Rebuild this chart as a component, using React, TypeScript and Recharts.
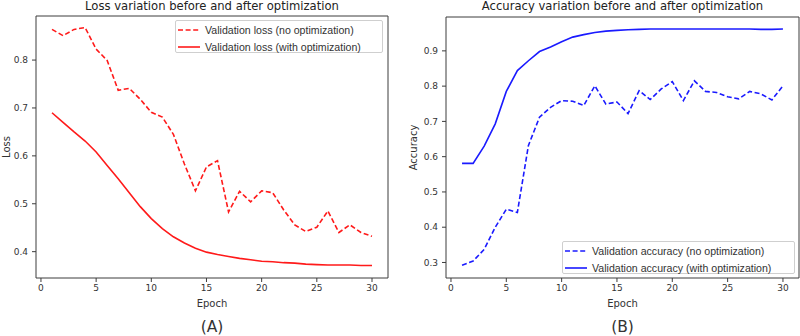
import { LineChart, Line, XAxis, YAxis, Legend, Label, CartesianGrid } from 'recharts';

// epochs on the x axis
const epochs = [
  1, 2, 3, 4, 5, 6, 7, 8, 9, 10, 11, 12, 13, 14, 15,
  16, 17, 18, 19, 20, 21, 22, 23, 24, 25, 26, 27, 28, 29, 30,
];

const lossNoOpt = [
  0.864, 0.851, 0.864, 0.868, 0.823, 0.799, 0.737, 0.741, 0.718, 0.691,
  0.681, 0.645, 0.583, 0.527, 0.577, 0.590, 0.483, 0.526, 0.504, 0.527,
  0.523, 0.487, 0.456, 0.442, 0.451, 0.485, 0.440, 0.456, 0.440, 0.432,
];
const lossOpt = [
  0.690, 0.670, 0.650, 0.631, 0.608, 0.580, 0.552, 0.523, 0.494, 0.469,
  0.448, 0.431, 0.418, 0.407, 0.399, 0.394, 0.390, 0.386, 0.383, 0.380,
  0.379, 0.377, 0.376, 0.374, 0.373, 0.372, 0.372, 0.372, 0.371, 0.371,
];
const accNoOpt = [
  0.292, 0.304, 0.337, 0.400, 0.451, 0.442, 0.632, 0.712, 0.740, 0.759,
  0.757, 0.745, 0.801, 0.749, 0.755, 0.722, 0.787, 0.762, 0.792, 0.813,
  0.759, 0.815, 0.785, 0.782, 0.770, 0.764, 0.785, 0.778, 0.761, 0.801,
];
const accOpt = [
  0.581, 0.581, 0.630, 0.693, 0.785, 0.844, 0.872, 0.898, 0.911, 0.926,
  0.939, 0.946, 0.952, 0.956, 0.958, 0.960, 0.961, 0.962, 0.962, 0.962,
  0.962, 0.962, 0.962, 0.962, 0.962, 0.962, 0.962, 0.961, 0.961, 0.962,
];

const xTicks = [0, 5, 10, 15, 20, 25, 30];
const lossTicks = [0.4, 0.5, 0.6, 0.7, 0.8];
const accTicks = [0.3, 0.4, 0.5, 0.6, 0.7, 0.8, 0.9];

const lossData = epochs.map((epoch, i) => ({ epoch, noOpt: lossNoOpt[i], opt: lossOpt[i] }));
const accData = epochs.map((epoch, i) => ({ epoch, noOpt: accNoOpt[i], opt: accOpt[i] }));

const INK = '#333';
const SPINE = '#3c3c3c';
const DASH = '5 2.6';
const X_DOMAIN = [-0.45, 31.45];
const DEJAVU = '"DejaVu Sans", sans-serif';

const tickStyle = { fill: INK, fontSize: 9, fontFamily: DEJAVU };

type Item = { name: string; color: string; dashed: boolean };

function LegendBox({ items, width }: { items: Item[]; width: number }) {
  return (
    <div
      style={{
        width, height: 33, boxSizing: 'border-box', border: '1px solid #cfcfcf', borderRadius: 2,
        background: 'rgba(255,255,255,0.85)',
      }}
    >
      {items.map((it) => (
        <div key={it.name} style={{ display: 'flex', alignItems: 'center', height: 17 }}>
          <svg width={22} height={6} style={{ marginLeft: 2 }}>
            <line x1={0} y1={3} x2={22} y2={3} stroke={it.color} strokeWidth={1.6}
              strokeDasharray={it.dashed ? DASH : undefined} />
          </svg>
          <span style={{ marginLeft: 5, fontSize: 10.6, color: INK, whiteSpace: 'nowrap' }}>{it.name}</span>
        </div>
      ))}
    </div>
  );
}

function YTitle({ text, x, y }: { text: string; x: number; y: number }) {
  return (
    <text x={x} y={y} transform={`rotate(-90 ${x} ${y})`} textAnchor="middle"
      dominantBaseline="central" fontSize={10} fontFamily={DEJAVU} fill={INK}>
      {text}
    </text>
  );
}

type PanelProps = {
  data: typeof lossData;
  title: string;
  yTitle: string;
  yTitleX: number;
  tag: string;
  yTicks: number[];
  yDomain: number[];
  color: string;
  names: [string, string];
  margin: { top: number; right: number; left: number; bottom: number };
  yWidth: number;
  legendPos: { left: number; top: number; width: number };
};

function Panel(p: PanelProps) {
  const plotTop = p.margin.top;
  const plotBottom = 336 - 58;
  const items: Item[] = [
    { name: p.names[0], color: p.color, dashed: true },
    { name: p.names[1], color: p.color, dashed: false },
  ];
  // title above the box, axis name and panel tag below it
  const texts = ({ viewBox }: any) => {
    const cx = viewBox.x + viewBox.width / 2;
    return (
      <g fontFamily={DEJAVU}>
        <text x={cx} y={10} textAnchor="middle" fontSize={11.6} fill="#222">{p.title}</text>
        <text x={cx} y={plotBottom + 29} textAnchor="middle" fontSize={10} fill={INK}>Epoch</text>
        <text x={cx} y={plotBottom + 54} textAnchor="middle" fontSize={15.5} fill={INK}>{p.tag}</text>
      </g>
    );
  };
  return (
    <LineChart width={400} height={336} data={p.data} margin={p.margin}>
      {/* top and right spines of the axes box */}
      <CartesianGrid stroke={SPINE} strokeDasharray="0"
        horizontalCoordinatesGenerator={({ offset }: any) => [offset.top]}
        verticalCoordinatesGenerator={({ offset }: any) => [offset.left + offset.width]} />
      <XAxis dataKey="epoch" type="number" domain={X_DOMAIN} ticks={xTicks} allowDataOverflow
        height={58} tickSize={4} tickMargin={3} tick={tickStyle}
        axisLine={{ stroke: SPINE }} tickLine={{ stroke: SPINE }}>
        <Label content={texts} />
      </XAxis>
      <YAxis type="number" domain={p.yDomain} ticks={p.yTicks} allowDataOverflow width={p.yWidth}
        tickSize={4} tickMargin={4} tick={tickStyle} tickFormatter={(v: number) => v.toFixed(1)}
        axisLine={{ stroke: SPINE }} tickLine={{ stroke: SPINE }}>
        <Label content={() => <YTitle text={p.yTitle} x={p.yTitleX} y={(plotTop + plotBottom) / 2} />} />
      </YAxis>
      <Line dataKey="noOpt" name={p.names[0]} stroke={p.color} strokeWidth={1.6} strokeDasharray={DASH}
        dot={false} isAnimationActive={false} />
      <Line dataKey="opt" name={p.names[1]} stroke={p.color} strokeWidth={1.6}
        dot={false} isAnimationActive={false} />
      <Legend layout="vertical" align="center" verticalAlign="middle"
        wrapperStyle={{ left: p.legendPos.left, top: p.legendPos.top, width: p.legendPos.width, height: 33 }}
        content={() => <LegendBox items={items} width={p.legendPos.width} />} />
    </LineChart>
  );
}

export default function App() {
  return (
    <div style={{ position: 'absolute', left: 0, top: 0, width: 800, height: 336, background: '#fff',
      fontFamily: '"Liberation Sans", Arial, sans-serif' }}>
      <div style={{ position: 'absolute', left: 0, top: 0 }}>
        <Panel
          data={lossData}
          title="Loss variation before and after optimization"
          yTitle="Loss"
          yTitleX={6}
          tag="(A)"
          yTicks={lossTicks}
          yDomain={[0.345, 0.892]}
          color="#ff1a1a"
          names={['Validation loss (no optimization)', 'Validation loss (with optimization)']}
          margin={{ top: 16, right: 12, left: 0, bottom: 0 }}
          yWidth={36}
          legendPos={{ left: 175, top: 20, width: 208 }}
        />
      </div>
      <div style={{ position: 'absolute', left: 400, top: 0 }}>
        <Panel
          data={accData}
          title="Accuracy variation before and after optimization"
          yTitle="Accuracy"
          yTitleX={13}
          tag="(B)"
          yTicks={accTicks}
          yDomain={[0.256, 0.996]}
          color="#1a1aff"
          names={['Validation accuracy (no optimization)', 'Validation accuracy (with optimization)']}
          margin={{ top: 17, right: 1, left: 0, bottom: 0 }}
          yWidth={46}
          legendPos={{ left: 162, top: 241, width: 233 }}
        />
      </div>
    </div>
  );
}
